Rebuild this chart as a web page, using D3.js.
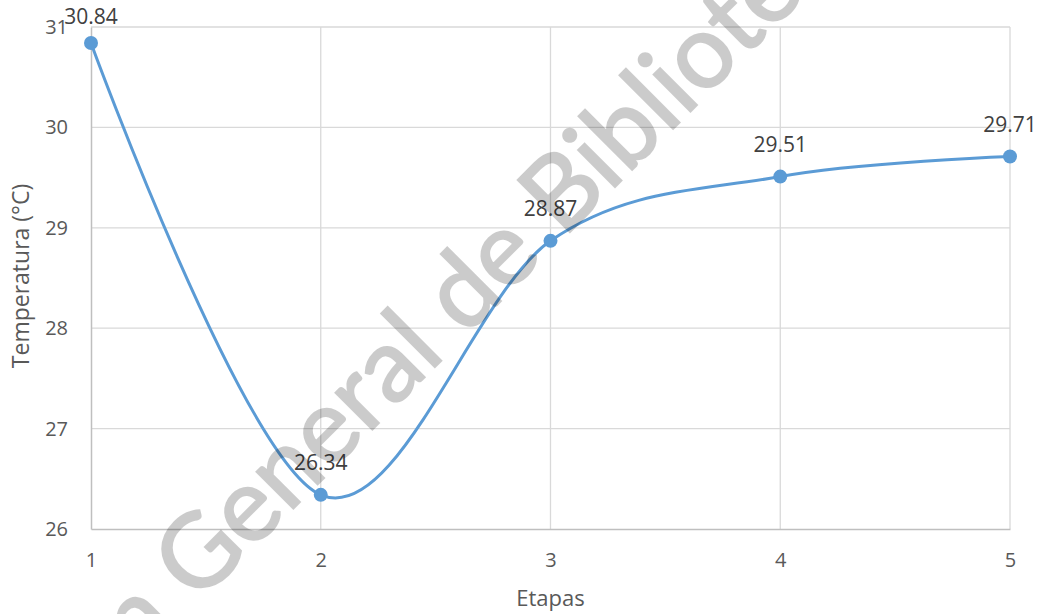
<!DOCTYPE html>
<html>
<head>
<meta charset="utf-8">
<script src="https://cdn.jsdelivr.net/npm/d3@7"></script>
<style>
  html, body { margin: 0; padding: 0; background: #fff; }
  svg { display: block; }
</style>
</head>
<body>
<svg id="chart" width="1041" height="614"></svg>
<script>
// Temperature recorded at each stage
const etapas = [1, 2, 3, 4, 5];
const temperaturas = [30.84, 26.34, 28.87, 29.51, 29.71];
const xTicks = [1, 2, 3, 4, 5];
const yTicks = [26, 27, 28, 29, 30, 31];
const xTitle = "Etapas";
const yTitle = "Temperatura (°C)";
const marca = "Dirección General de Bibliotecas";

const W = 1041, H = 614;
const margin = { left: 91, right: 31, top: 27, bottom: 85 };
const svg = d3.select("#chart");
const font = "'Open Sans', 'Noto Sans', sans-serif";

const x = d3.scaleLinear().domain([1, 5]).range([margin.left, W - margin.right]);
const y = d3.scaleLinear().domain([26, 31]).range([H - margin.bottom, margin.top]);

// Gridlines
const grid = svg.append("g");
grid.selectAll("line.h").data(yTicks.slice(1)).join("line")
  .attr("x1", x(1)).attr("x2", x(5))
  .attr("y1", d => y(d)).attr("y2", d => y(d))
  .attr("stroke", "#d9d9d9").attr("stroke-width", 1.3);
grid.selectAll("line.v").data(xTicks.slice(1)).join("line")
  .attr("x1", d => x(d)).attr("x2", d => x(d))
  .attr("y1", y(26)).attr("y2", y(31))
  .attr("stroke", "#d9d9d9").attr("stroke-width", 1.3);

// Axes
const xAxis = svg.append("g").attr("transform", `translate(0,${y(26)})`)
  .call(d3.axisBottom(x).tickValues(xTicks).tickSize(0).tickPadding(24).tickFormat(d3.format("d")));
const yAxis = svg.append("g").attr("transform", `translate(${x(1)},0)`)
  .call(d3.axisLeft(y).tickValues(yTicks).tickSize(0).tickPadding(23).tickFormat(d3.format("d")));
[xAxis, yAxis].forEach(a => {
  a.select(".domain").attr("stroke", "#bfbfbf").attr("stroke-width", 1.5);
  a.selectAll("text").attr("fill", "#595959").style("font-family", font).style("font-size", "20px");
});

// Axis titles
svg.append("text").attr("x", (x(1) + x(5)) / 2).attr("y", 606)
  .attr("text-anchor", "middle").attr("fill", "#595959")
  .style("font-family", font).style("font-size", "22px").text(xTitle);
svg.append("text").attr("transform", `translate(29,276) rotate(-90)`)
  .attr("text-anchor", "middle").attr("fill", "#595959")
  .style("font-family", font).style("font-size", "23px").text(yTitle);

// Smoothed series line
const pts = etapas.map((e, i) => [e, temperaturas[i]]);
const line = d3.line().x(d => x(d[0])).y(d => y(d[1])).curve(d3.curveCatmullRom.alpha(0));
svg.append("path").datum(pts).attr("d", line)
  .attr("fill", "none").attr("stroke", "#5b9bd5").attr("stroke-width", 3);

// Markers
svg.selectAll("circle.pt").data(pts).join("circle")
  .attr("cx", d => x(d[0])).attr("cy", d => y(d[1])).attr("r", 7)
  .attr("fill", "#5b9bd5");

// Data labels above each point, kept inside the top edge
svg.selectAll("text.lbl").data(pts).join("text")
  .attr("x", d => x(d[0])).attr("y", d => Math.max(y(d[1]) - 24.5, 24))
  .attr("text-anchor", "middle").attr("fill", "#404040")
  .style("font-family", font).style("font-size", "21px")
  .text(d => d[1].toFixed(2));

// Library watermark across the chart, "G" of "General" anchored at a fixed point
const wm = svg.append("g").attr("opacity", 0.2);
const wmText = wm.append("text")
  .attr("fill", "#000").attr("stroke", "#000").attr("stroke-width", 2)
  .style("font-family", "Lato, sans-serif")
  .style("font-size", "103px")
  .text(marca);
const gStart = wmText.node().getStartPositionOfChar(marca.indexOf("General")).x;
wmText.attr("transform", `translate(197,605) rotate(-45) translate(${-gStart},0)`);
</script>
</body>
</html>
